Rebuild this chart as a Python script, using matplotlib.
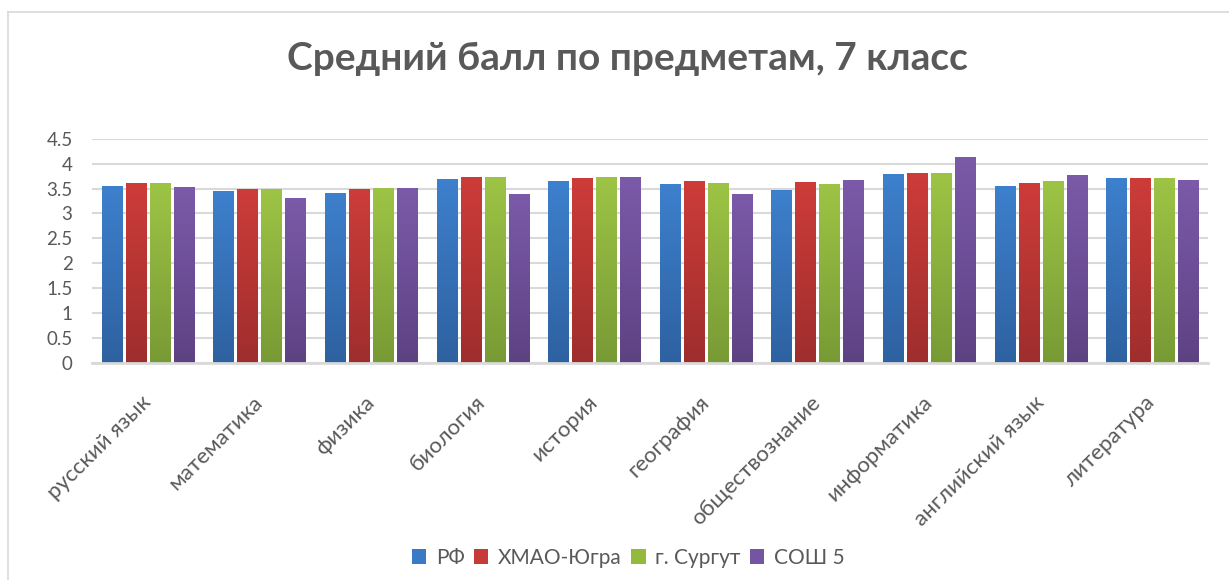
import numpy as np
import matplotlib
matplotlib.use("Agg")
import matplotlib.pyplot as plt
from matplotlib.colors import LinearSegmentedColormap
from matplotlib.lines import Line2D

plt.rcParams['font.family'] = ['Lato', 'DejaVu Sans']

title = "Средний балл по предметам, 7 класс"
categories = ["русский язык", "математика", "физика", "биология", "история",
              "география", "обществознание", "информатика", "английский язык", "литература"]
series_names = ["РФ", "ХМАО-Югра", "г. Сургут", "СОШ 5"]
rf      = [3.55, 3.45, 3.42, 3.69, 3.65, 3.59, 3.47, 3.79, 3.55, 3.71]
hmao    = [3.61, 3.49, 3.49, 3.73, 3.71, 3.65, 3.63, 3.81, 3.61, 3.71]
surgut  = [3.61, 3.49, 3.51, 3.73, 3.73, 3.61, 3.59, 3.81, 3.65, 3.71]
sosh5   = [3.53, 3.32, 3.51, 3.40, 3.73, 3.40, 3.67, 4.14, 3.77, 3.67]
yticks = [0, 0.5, 1, 1.5, 2, 2.5, 3, 3.5, 4, 4.5]
ytick_labels = ["0", "0.5", "1", "1.5", "2", "2.5", "3", "3.5", "4", "4.5"]

values = [rf, hmao, surgut, sosh5]
top_colors = ["#3D80CD", "#CD3C39", "#9DC445", "#7B5AA9"]
bot_colors = ["#2E61A0", "#9E2E2D", "#789A35", "#5D4283"]
legend_colors = ["#3A7AC5", "#C63A37", "#93B93F", "#7554A2"]
text_color = "#595959"
grid_color = "#D9D9D9"

fig = plt.figure(figsize=(12.29, 5.8), dpi=100)
ax = fig.add_axes([92/1229, 1-363/580, (1208-92)/1229, (363-138.7)/580])

x = np.arange(len(categories))
spacing = 0.215
width = 0.18
offsets = (np.arange(4) - 1.5) * spacing

gradient = np.linspace(0, 1, 256).reshape(-1, 1)
for i, (vals, tc, bc) in enumerate(zip(values, top_colors, bot_colors)):
    bars = ax.bar(x + offsets[i], vals, width=width, color=legend_colors[i],
                  linewidth=0, zorder=2, label=series_names[i])
    cmap = LinearSegmentedColormap.from_list(f"g{i}", [bc, tc])
    for b in bars:
        x0, y0 = b.get_x(), b.get_y()
        w, h = b.get_width(), b.get_height()
        im = ax.imshow(gradient, extent=[x0, x0 + w, y0, y0 + h], origin='lower',
                       cmap=cmap, aspect='auto', zorder=3)
        im.set_clip_path(b)

ax.set_xlim(-0.5, len(categories) - 0.5)
ax.set_ylim(0, 4.5)
ax.set_aspect('auto')
ax.set_yticks(yticks)
ax.set_yticklabels(ytick_labels)
ax.set_xticks(x)
ax.set_xticklabels(categories, rotation=45, ha='right', va='center', rotation_mode='anchor')
ax.tick_params(axis='y', length=0, pad=14, labelsize=13.5, labelcolor=text_color)
ax.tick_params(axis='x', length=0, pad=26, labelsize=16, labelcolor=text_color)
ax.grid(axis='y', color=grid_color, linewidth=1.5, zorder=0)
ax.set_axisbelow(True)
for s in ['top', 'right', 'left']:
    ax.spines[s].set_visible(False)
ax.spines['bottom'].set_color(grid_color)
ax.spines['bottom'].set_linewidth(2)
ax.spines['bottom'].set_zorder(4)

fig.text(627/1229, 1-58/580, title, ha='center', va='center', fontsize=28,
         fontweight='bold', color=text_color)

leg = fig.legend(loc='center', bbox_to_anchor=(628/1229, 1-558/580), ncol=4, frameon=False,
                 fontsize=15, labelcolor=text_color, handlelength=0.7, handleheight=0.7,
                 handletextpad=0.45, columnspacing=0.45)

# chart border (left and top)
fig.add_artist(Line2D([8/1229, 8/1229], [0, 1-12/580], transform=fig.transFigure,
                      color=grid_color, linewidth=1.2))
fig.add_artist(Line2D([8/1229, 1], [1-12/580, 1-12/580], transform=fig.transFigure,
                      color=grid_color, linewidth=1.2))

fig.savefig("out.png", dpi=100, facecolor="white")
